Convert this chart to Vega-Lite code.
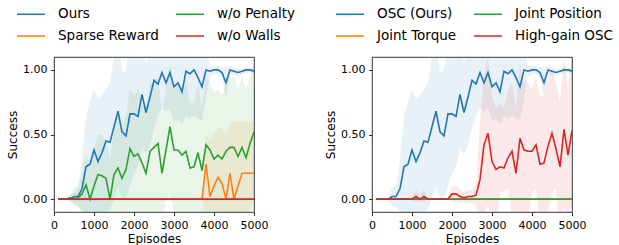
{
"$schema": "https://vega.github.io/schema/vega-lite/v6.json",
"padding": {"left": 6, "top": -2, "right": 0, "bottom": 0},
"spacing": 28,
"config": {
 "font": "DejaVu Sans",
 "view": {"stroke": "#000", "strokeWidth": 0.8},
 "axis": {"domain": false, "grid": false, "tickColor": "#000", "tickSize": 3.5, "tickWidth": 0.8, "labelFontSize": 11, "labelColor": "#000", "titleFontSize": 12, "titleFontWeight": "normal", "titleColor": "#000", "labelPadding": 3.5, "titlePadding": 3},
 "legend": {"orient": "none", "columns": 2, "symbolType": "stroke", "symbolSize": 784, "symbolStrokeWidth": 1.5, "labelFontSize": 13.5, "labelOffset": 12, "columnPadding": 14, "rowPadding": -1, "labelColor": "#000", "title": null}
},
"datasets": {
 "left": [
  {"s":"Ours","ep":100,"m":0,"lo":0,"hi":0},{"s":"Ours","ep":200,"m":0,"lo":0,"hi":0},{"s":"Ours","ep":300,"m":0,"lo":0,"hi":0},{"s":"Ours","ep":400,"m":0,"lo":-0.01,"hi":0.01},
  {"s":"Ours","ep":500,"m":0.02,"lo":-0.05,"hi":0.09},{"s":"Ours","ep":600,"m":0.02,"lo":-0.06,"hi":0.1},{"s":"Ours","ep":700,"m":0.08,"lo":-0.1,"hi":0.3},{"s":"Ours","ep":800,"m":0.25,"lo":-0.15,"hi":0.65},
  {"s":"Ours","ep":900,"m":0.27,"lo":-0.2,"hi":0.75},{"s":"Ours","ep":1000,"m":0.38,"lo":-0.15,"hi":0.85},{"s":"Ours","ep":1100,"m":0.29,"lo":-0.2,"hi":0.78},{"s":"Ours","ep":1200,"m":0.36,"lo":-0.15,"hi":0.8},
  {"s":"Ours","ep":1300,"m":0.45,"lo":-0.1,"hi":0.85},{"s":"Ours","ep":1400,"m":0.44,"lo":-0.08,"hi":0.9},{"s":"Ours","ep":1500,"m":0.56,"lo":0.0,"hi":1.1},{"s":"Ours","ep":1600,"m":0.68,"lo":0.1,"hi":1.25},
  {"s":"Ours","ep":1700,"m":0.52,"lo":0.0,"hi":0.98},{"s":"Ours","ep":1800,"m":0.49,"lo":0.0,"hi":1.0},{"s":"Ours","ep":1900,"m":0.66,"lo":0.1,"hi":1.2},{"s":"Ours","ep":2000,"m":0.66,"lo":0.2,"hi":1.15},
  {"s":"Ours","ep":2100,"m":0.64,"lo":0.25,"hi":1.1},{"s":"Ours","ep":2200,"m":0.81,"lo":0.4,"hi":1.2},{"s":"Ours","ep":2300,"m":0.67,"lo":0.35,"hi":1.05},{"s":"Ours","ep":2400,"m":0.79,"lo":0.42,"hi":1.15},
  {"s":"Ours","ep":2500,"m":0.92,"lo":0.55,"hi":1.25},{"s":"Ours","ep":2600,"m":0.89,"lo":0.65,"hi":1.15},{"s":"Ours","ep":2700,"m":0.98,"lo":0.7,"hi":1.25},{"s":"Ours","ep":2800,"m":0.9,"lo":0.68,"hi":1.12},
  {"s":"Ours","ep":2900,"m":0.98,"lo":0.7,"hi":1.25},{"s":"Ours","ep":3000,"m":0.87,"lo":0.6,"hi":1.14},{"s":"Ours","ep":3100,"m":0.9,"lo":0.62,"hi":1.18},{"s":"Ours","ep":3200,"m":0.83,"lo":0.58,"hi":1.08},
  {"s":"Ours","ep":3300,"m":0.99,"lo":0.64,"hi":1.3},{"s":"Ours","ep":3400,"m":0.97,"lo":0.62,"hi":1.3},{"s":"Ours","ep":3500,"m":1.0,"lo":0.65,"hi":1.35},{"s":"Ours","ep":3600,"m":0.94,"lo":0.62,"hi":1.25},
  {"s":"Ours","ep":3700,"m":0.87,"lo":0.6,"hi":1.14},{"s":"Ours","ep":3800,"m":1.0,"lo":0.78,"hi":1.2},{"s":"Ours","ep":3900,"m":0.99,"lo":0.95,"hi":1.03},{"s":"Ours","ep":4000,"m":1.0,"lo":0.97,"hi":1.03},
  {"s":"Ours","ep":4100,"m":1.0,"lo":0.97,"hi":1.03},{"s":"Ours","ep":4200,"m":0.98,"lo":0.94,"hi":1.02},{"s":"Ours","ep":4300,"m":0.9,"lo":0.78,"hi":1.02},{"s":"Ours","ep":4400,"m":1.0,"lo":0.97,"hi":1.03},
  {"s":"Ours","ep":4500,"m":0.99,"lo":0.96,"hi":1.02},{"s":"Ours","ep":4600,"m":0.98,"lo":0.95,"hi":1.01},{"s":"Ours","ep":4700,"m":0.99,"lo":0.97,"hi":1.01},{"s":"Ours","ep":4800,"m":1.0,"lo":0.98,"hi":1.02},
  {"s":"Ours","ep":4900,"m":1.0,"lo":0.98,"hi":1.02},{"s":"Ours","ep":5000,"m":0.99,"lo":0.97,"hi":1.01},
  {"s":"Sparse Reward","ep":100,"m":0,"lo":0,"hi":0},{"s":"Sparse Reward","ep":3700,"m":0,"lo":0,"hi":0},
  {"s":"Sparse Reward","ep":3800,"m":0.27,"lo":-0.2,"hi":0.5},{"s":"Sparse Reward","ep":3900,"m":0.02,"lo":-0.2,"hi":0.45},{"s":"Sparse Reward","ep":4000,"m":0.1,"lo":-0.2,"hi":0.5},{"s":"Sparse Reward","ep":4100,"m":0.17,"lo":-0.2,"hi":0.55},
  {"s":"Sparse Reward","ep":4200,"m":0.12,"lo":-0.2,"hi":0.55},{"s":"Sparse Reward","ep":4300,"m":0.0,"lo":-0.2,"hi":0.5},{"s":"Sparse Reward","ep":4400,"m":0.2,"lo":-0.2,"hi":0.6},{"s":"Sparse Reward","ep":4500,"m":0.0,"lo":-0.2,"hi":0.6},
  {"s":"Sparse Reward","ep":4600,"m":0.1,"lo":-0.2,"hi":0.6},{"s":"Sparse Reward","ep":4700,"m":0.2,"lo":-0.2,"hi":0.6},{"s":"Sparse Reward","ep":4800,"m":0.2,"lo":-0.2,"hi":0.6},{"s":"Sparse Reward","ep":4900,"m":0.2,"lo":-0.2,"hi":0.6},
  {"s":"Sparse Reward","ep":5000,"m":0.2,"lo":-0.2,"hi":0.6},
  {"s":"w/o Penalty","ep":100,"m":0,"lo":0,"hi":0},{"s":"w/o Penalty","ep":200,"m":0,"lo":0,"hi":0},{"s":"w/o Penalty","ep":300,"m":0,"lo":0,"hi":0},{"s":"w/o Penalty","ep":400,"m":0.01,"lo":-0.02,"hi":0.04},
  {"s":"w/o Penalty","ep":500,"m":0.0,"lo":-0.03,"hi":0.05},{"s":"w/o Penalty","ep":600,"m":0.01,"lo":-0.05,"hi":0.08},{"s":"w/o Penalty","ep":700,"m":0.04,"lo":-0.1,"hi":0.2},{"s":"w/o Penalty","ep":800,"m":0.11,"lo":-0.15,"hi":0.35},
  {"s":"w/o Penalty","ep":900,"m":0.0,"lo":-0.1,"hi":0.25},{"s":"w/o Penalty","ep":1000,"m":0.1,"lo":-0.2,"hi":0.4},{"s":"w/o Penalty","ep":1100,"m":0.19,"lo":-0.15,"hi":0.5},{"s":"w/o Penalty","ep":1200,"m":0.18,"lo":-0.15,"hi":0.5},
  {"s":"w/o Penalty","ep":1300,"m":0.16,"lo":-0.15,"hi":0.45},{"s":"w/o Penalty","ep":1400,"m":0.0,"lo":-0.2,"hi":0.3},{"s":"w/o Penalty","ep":1500,"m":0.19,"lo":-0.2,"hi":0.55},{"s":"w/o Penalty","ep":1600,"m":0.24,"lo":-0.2,"hi":0.65},
  {"s":"w/o Penalty","ep":1700,"m":0.16,"lo":-0.25,"hi":0.55},{"s":"w/o Penalty","ep":1800,"m":0.23,"lo":-0.2,"hi":0.65},{"s":"w/o Penalty","ep":1900,"m":0.39,"lo":-0.1,"hi":0.85},{"s":"w/o Penalty","ep":2000,"m":0.33,"lo":-0.15,"hi":0.8},
  {"s":"w/o Penalty","ep":2100,"m":0.35,"lo":-0.15,"hi":0.85},{"s":"w/o Penalty","ep":2200,"m":0.28,"lo":-0.2,"hi":0.75},{"s":"w/o Penalty","ep":2300,"m":0.2,"lo":-0.25,"hi":0.65},{"s":"w/o Penalty","ep":2400,"m":0.37,"lo":-0.15,"hi":0.9},
  {"s":"w/o Penalty","ep":2500,"m":0.4,"lo":-0.1,"hi":0.9},{"s":"w/o Penalty","ep":2600,"m":0.43,"lo":-0.1,"hi":0.95},{"s":"w/o Penalty","ep":2700,"m":0.2,"lo":-0.2,"hi":0.65},{"s":"w/o Penalty","ep":2800,"m":0.38,"lo":0.0,"hi":0.85},
  {"s":"w/o Penalty","ep":2900,"m":0.56,"lo":0.05,"hi":1.05},{"s":"w/o Penalty","ep":3000,"m":0.38,"lo":-0.1,"hi":0.85},{"s":"w/o Penalty","ep":3100,"m":0.38,"lo":-0.15,"hi":0.9},{"s":"w/o Penalty","ep":3200,"m":0.34,"lo":-0.2,"hi":0.85},
  {"s":"w/o Penalty","ep":3300,"m":0.37,"lo":-0.15,"hi":0.9},{"s":"w/o Penalty","ep":3400,"m":0.24,"lo":-0.25,"hi":0.75},{"s":"w/o Penalty","ep":3500,"m":0.25,"lo":-0.25,"hi":0.75},{"s":"w/o Penalty","ep":3600,"m":0.36,"lo":-0.2,"hi":0.9},
  {"s":"w/o Penalty","ep":3700,"m":0.22,"lo":-0.25,"hi":0.7},{"s":"w/o Penalty","ep":3800,"m":0.42,"lo":-0.1,"hi":0.95},{"s":"w/o Penalty","ep":3900,"m":0.38,"lo":-0.15,"hi":0.9},{"s":"w/o Penalty","ep":4000,"m":0.31,"lo":-0.2,"hi":0.82},
  {"s":"w/o Penalty","ep":4100,"m":0.34,"lo":-0.2,"hi":0.85},{"s":"w/o Penalty","ep":4200,"m":0.31,"lo":-0.2,"hi":0.8},{"s":"w/o Penalty","ep":4300,"m":0.37,"lo":-0.15,"hi":0.9},{"s":"w/o Penalty","ep":4400,"m":0.4,"lo":-0.15,"hi":0.95},
  {"s":"w/o Penalty","ep":4500,"m":0.4,"lo":-0.15,"hi":0.95},{"s":"w/o Penalty","ep":4600,"m":0.33,"lo":-0.2,"hi":0.85},{"s":"w/o Penalty","ep":4700,"m":0.4,"lo":-0.15,"hi":0.95},{"s":"w/o Penalty","ep":4800,"m":0.32,"lo":-0.2,"hi":0.85},
  {"s":"w/o Penalty","ep":4900,"m":0.43,"lo":-0.1,"hi":0.95},{"s":"w/o Penalty","ep":5000,"m":0.52,"lo":0.0,"hi":1.05},
  {"s":"w/o Walls","ep":100,"m":0,"lo":-0.01,"hi":0.01},{"s":"w/o Walls","ep":5000,"m":0,"lo":-0.01,"hi":0.01}
 ],
 "right": [
  {"s":"OSC (Ours)","ep":100,"m":0,"lo":0,"hi":0},{"s":"OSC (Ours)","ep":200,"m":0,"lo":0,"hi":0},{"s":"OSC (Ours)","ep":300,"m":0,"lo":0,"hi":0},{"s":"OSC (Ours)","ep":400,"m":0,"lo":-0.01,"hi":0.01},
  {"s":"OSC (Ours)","ep":500,"m":0.02,"lo":-0.05,"hi":0.09},{"s":"OSC (Ours)","ep":600,"m":0.02,"lo":-0.06,"hi":0.1},{"s":"OSC (Ours)","ep":700,"m":0.08,"lo":-0.1,"hi":0.3},{"s":"OSC (Ours)","ep":800,"m":0.25,"lo":-0.15,"hi":0.65},
  {"s":"OSC (Ours)","ep":900,"m":0.27,"lo":-0.2,"hi":0.75},{"s":"OSC (Ours)","ep":1000,"m":0.38,"lo":-0.15,"hi":0.85},{"s":"OSC (Ours)","ep":1100,"m":0.29,"lo":-0.2,"hi":0.78},{"s":"OSC (Ours)","ep":1200,"m":0.36,"lo":-0.15,"hi":0.8},
  {"s":"OSC (Ours)","ep":1300,"m":0.45,"lo":-0.1,"hi":0.85},{"s":"OSC (Ours)","ep":1400,"m":0.44,"lo":-0.08,"hi":0.9},{"s":"OSC (Ours)","ep":1500,"m":0.56,"lo":0.0,"hi":1.1},{"s":"OSC (Ours)","ep":1600,"m":0.68,"lo":0.1,"hi":1.25},
  {"s":"OSC (Ours)","ep":1700,"m":0.52,"lo":0.0,"hi":0.98},{"s":"OSC (Ours)","ep":1800,"m":0.49,"lo":0.0,"hi":1.0},{"s":"OSC (Ours)","ep":1900,"m":0.66,"lo":0.1,"hi":1.2},{"s":"OSC (Ours)","ep":2000,"m":0.66,"lo":0.2,"hi":1.15},
  {"s":"OSC (Ours)","ep":2100,"m":0.64,"lo":0.25,"hi":1.1},{"s":"OSC (Ours)","ep":2200,"m":0.81,"lo":0.4,"hi":1.2},{"s":"OSC (Ours)","ep":2300,"m":0.67,"lo":0.35,"hi":1.05},{"s":"OSC (Ours)","ep":2400,"m":0.79,"lo":0.42,"hi":1.15},
  {"s":"OSC (Ours)","ep":2500,"m":0.92,"lo":0.55,"hi":1.25},{"s":"OSC (Ours)","ep":2600,"m":0.89,"lo":0.65,"hi":1.15},{"s":"OSC (Ours)","ep":2700,"m":0.98,"lo":0.7,"hi":1.25},{"s":"OSC (Ours)","ep":2800,"m":0.9,"lo":0.68,"hi":1.12},
  {"s":"OSC (Ours)","ep":2900,"m":0.98,"lo":0.7,"hi":1.25},{"s":"OSC (Ours)","ep":3000,"m":0.87,"lo":0.6,"hi":1.14},{"s":"OSC (Ours)","ep":3100,"m":0.9,"lo":0.62,"hi":1.18},{"s":"OSC (Ours)","ep":3200,"m":0.83,"lo":0.58,"hi":1.08},
  {"s":"OSC (Ours)","ep":3300,"m":0.99,"lo":0.64,"hi":1.3},{"s":"OSC (Ours)","ep":3400,"m":0.97,"lo":0.62,"hi":1.3},{"s":"OSC (Ours)","ep":3500,"m":1.0,"lo":0.65,"hi":1.35},{"s":"OSC (Ours)","ep":3600,"m":0.94,"lo":0.62,"hi":1.25},
  {"s":"OSC (Ours)","ep":3700,"m":0.87,"lo":0.6,"hi":1.14},{"s":"OSC (Ours)","ep":3800,"m":1.0,"lo":0.78,"hi":1.2},{"s":"OSC (Ours)","ep":3900,"m":0.99,"lo":0.95,"hi":1.03},{"s":"OSC (Ours)","ep":4000,"m":1.0,"lo":0.97,"hi":1.03},
  {"s":"OSC (Ours)","ep":4100,"m":1.0,"lo":0.97,"hi":1.03},{"s":"OSC (Ours)","ep":4200,"m":0.98,"lo":0.94,"hi":1.02},{"s":"OSC (Ours)","ep":4300,"m":0.9,"lo":0.78,"hi":1.02},{"s":"OSC (Ours)","ep":4400,"m":1.0,"lo":0.97,"hi":1.03},
  {"s":"OSC (Ours)","ep":4500,"m":0.99,"lo":0.96,"hi":1.02},{"s":"OSC (Ours)","ep":4600,"m":0.98,"lo":0.95,"hi":1.01},{"s":"OSC (Ours)","ep":4700,"m":0.99,"lo":0.97,"hi":1.01},{"s":"OSC (Ours)","ep":4800,"m":1.0,"lo":0.98,"hi":1.02},
  {"s":"OSC (Ours)","ep":4900,"m":1.0,"lo":0.98,"hi":1.02},{"s":"OSC (Ours)","ep":5000,"m":0.99,"lo":0.97,"hi":1.01},
  {"s":"Joint Torque","ep":100,"m":0,"lo":0,"hi":0},{"s":"Joint Torque","ep":5000,"m":0,"lo":0,"hi":0},
  {"s":"Joint Position","ep":100,"m":0,"lo":0,"hi":0},{"s":"Joint Position","ep":5000,"m":0,"lo":0,"hi":0},
  {"s":"High-gain OSC","ep":100,"m":0,"lo":0,"hi":0},{"s":"High-gain OSC","ep":900,"m":0,"lo":0,"hi":0},{"s":"High-gain OSC","ep":1000,"m":0,"lo":-0.01,"hi":0.02},{"s":"High-gain OSC","ep":1100,"m":0.02,"lo":-0.02,"hi":0.07},
  {"s":"High-gain OSC","ep":1200,"m":0.0,"lo":-0.02,"hi":0.03},{"s":"High-gain OSC","ep":1300,"m":0.02,"lo":-0.02,"hi":0.07},{"s":"High-gain OSC","ep":1400,"m":0,"lo":0,"hi":0.01},{"s":"High-gain OSC","ep":1900,"m":0,"lo":0,"hi":0},
  {"s":"High-gain OSC","ep":2000,"m":0.04,"lo":-0.02,"hi":0.1},{"s":"High-gain OSC","ep":2100,"m":0.04,"lo":-0.02,"hi":0.1},{"s":"High-gain OSC","ep":2200,"m":0.02,"lo":-0.03,"hi":0.08},{"s":"High-gain OSC","ep":2300,"m":0.01,"lo":-0.02,"hi":0.05},
  {"s":"High-gain OSC","ep":2400,"m":0.02,"lo":-0.03,"hi":0.07},{"s":"High-gain OSC","ep":2500,"m":0.02,"lo":-0.03,"hi":0.07},{"s":"High-gain OSC","ep":2600,"m":0.03,"lo":-0.05,"hi":0.12},{"s":"High-gain OSC","ep":2700,"m":0.15,"lo":-0.25,"hi":0.6},
  {"s":"High-gain OSC","ep":2800,"m":0.42,"lo":-0.1,"hi":0.95},{"s":"High-gain OSC","ep":2900,"m":0.51,"lo":-0.05,"hi":1.1},{"s":"High-gain OSC","ep":3000,"m":0.29,"lo":-0.2,"hi":0.8},{"s":"High-gain OSC","ep":3100,"m":0.23,"lo":-0.25,"hi":0.7},
  {"s":"High-gain OSC","ep":3200,"m":0.25,"lo":0.05,"hi":0.75},{"s":"High-gain OSC","ep":3300,"m":0.24,"lo":0.06,"hi":0.7},{"s":"High-gain OSC","ep":3400,"m":0.32,"lo":0.08,"hi":0.85},{"s":"High-gain OSC","ep":3500,"m":0.37,"lo":-0.15,"hi":0.9},
  {"s":"High-gain OSC","ep":3600,"m":0.2,"lo":-0.3,"hi":0.7},{"s":"High-gain OSC","ep":3700,"m":0.47,"lo":-0.1,"hi":1.05},{"s":"High-gain OSC","ep":3800,"m":0.38,"lo":-0.15,"hi":0.9},{"s":"High-gain OSC","ep":3900,"m":0.37,"lo":-0.15,"hi":0.9},
  {"s":"High-gain OSC","ep":4000,"m":0.37,"lo":0.05,"hi":0.85},{"s":"High-gain OSC","ep":4100,"m":0.42,"lo":0.08,"hi":0.95},{"s":"High-gain OSC","ep":4200,"m":0.27,"lo":-0.25,"hi":0.8},{"s":"High-gain OSC","ep":4300,"m":0.28,"lo":-0.25,"hi":0.8},
  {"s":"High-gain OSC","ep":4400,"m":0.41,"lo":-0.1,"hi":0.95},{"s":"High-gain OSC","ep":4500,"m":0.51,"lo":0.05,"hi":1.0},{"s":"High-gain OSC","ep":4600,"m":0.39,"lo":0.08,"hi":0.9},{"s":"High-gain OSC","ep":4700,"m":0.25,"lo":-0.25,"hi":0.75},
  {"s":"High-gain OSC","ep":4800,"m":0.54,"lo":-0.05,"hi":1.1},{"s":"High-gain OSC","ep":4900,"m":0.34,"lo":-0.2,"hi":0.85},{"s":"High-gain OSC","ep":5000,"m":0.53,"lo":0.0,"hi":1.1}
 ]
},
"resolve": {"scale": {"color": "independent"}, "legend": {"color": "independent"}},
"hconcat": [
 {
  "width": 200, "height": 155,
  "data": {"name": "left"},
  "encoding": {
   "x": {"field": "ep", "type": "quantitative", "scale": {"domain": [0, 5000], "nice": false}, "axis": {"values": [0,1000,2000,3000,4000,5000], "format": "d", "title": "Episodes", "labelFlush": false}},
   "color": {"field": "s", "type": "nominal", "scale": {"domain": ["Ours", "Sparse Reward", "w/o Penalty", "w/o Walls"], "range": ["#1f77b4", "#ff7f0e", "#2ca02c", "#d62728"]}, "legend": {"legendX": -38, "legendY": -58}}
  },
  "layer": [
   {"mark": {"type": "area", "fillOpacity": 0.1, "clip": true}, "encoding": {"y": {"field": "lo", "type": "quantitative", "scale": {"domain": [-0.1, 1.1], "nice": false}, "axis": {"values": [0,0.25,0.5,0.75,1], "format": ".2f", "title": "Success"}}, "y2": {"field": "hi"}}},
   {"mark": {"type": "line", "strokeWidth": 1.6, "clip": true}, "encoding": {"y": {"field": "m", "type": "quantitative"}}}
  ]
 },
 {
  "width": 200, "height": 155,
  "data": {"name": "right"},
  "encoding": {
   "x": {"field": "ep", "type": "quantitative", "scale": {"domain": [0, 5000], "nice": false}, "axis": {"values": [0,1000,2000,3000,4000,5000], "format": "d", "title": "Episodes", "labelFlush": false}},
   "color": {"field": "s", "type": "nominal", "scale": {"domain": ["OSC (Ours)", "Joint Torque", "Joint Position", "High-gain OSC"], "range": ["#1f77b4", "#ff7f0e", "#2ca02c", "#d62728"]}, "legend": {"legendX": -37, "legendY": -58}}
  },
  "layer": [
   {"mark": {"type": "area", "fillOpacity": 0.1, "clip": true}, "encoding": {"y": {"field": "lo", "type": "quantitative", "scale": {"domain": [-0.1, 1.1], "nice": false}, "axis": {"values": [0,0.25,0.5,0.75,1], "format": ".2f", "title": "Success"}}, "y2": {"field": "hi"}}},
   {"mark": {"type": "line", "strokeWidth": 1.6, "clip": true}, "encoding": {"y": {"field": "m", "type": "quantitative"}}}
  ]
 }
]
}
